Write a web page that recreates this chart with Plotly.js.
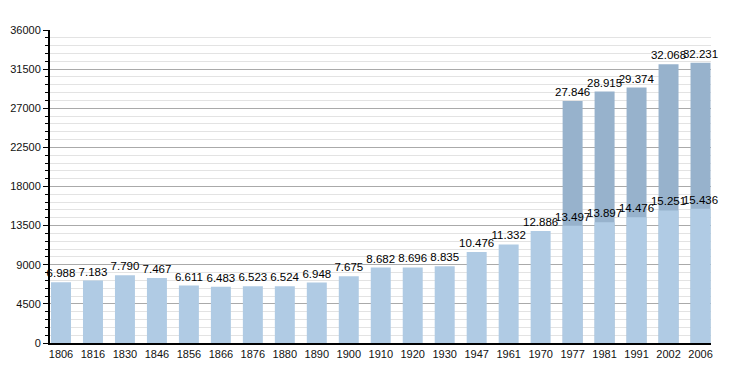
<!DOCTYPE html>
<html>
<head>
<meta charset="utf-8">
<script src="https://cdn.plot.ly/plotly-3.0.1.min.js"></script>
<style>html,body{margin:0;padding:0;background:#fff;}#chart{width:740px;height:373px;}</style>
</head>
<body>
<div id="chart"></div>
<script>
const years = ["1806","1816","1830","1846","1856","1866","1876","1880","1890","1900","1910","1920","1930","1947","1961","1970","1977","1981","1991","2002","2006"];
const population = [6988,7183,7790,7467,6611,6483,6523,6524,6948,7675,8682,8696,8835,10476,11332,12886,13497,13897,14476,15251,15436];
const totalYears = ["1977","1981","1991","2002","2006"];
const totalPopulation = [27846,28915,29374,32068,32231];
const yTicks = [0,4500,9000,13500,18000,22500,27000,31500,36000];

const font = {family: "Liberation Sans, Arial, sans-serif", size: 11, color: "#111"};
const labelFont = {family: "Liberation Sans, Arial, sans-serif", size: 11.5, color: "#000"};
const traces = [
  {type: "bar", x: totalYears, y: totalPopulation, marker: {color: "#97b2cc"}, width: 0.625,
   texttemplate: "%{y:,d}", textposition: "outside", cliponaxis: false, constraintext: "none",
   textfont: labelFont, hoverinfo: "none"},
  {type: "bar", x: years, y: population, marker: {color: "#b0cbe4"}, width: 0.625,
   texttemplate: "%{y:,d}", textposition: "outside", cliponaxis: false, constraintext: "none",
   textfont: labelFont, hoverinfo: "none"}
];
const layout = {
  width: 740, height: 373,
  margin: {l: 50, r: 29, t: 30, b: 30, pad: 0},
  paper_bgcolor: "#fff", plot_bgcolor: "#fff",
  barmode: "overlay", showlegend: false, separators: ",.",
  font: font,
  xaxis: {type: "category", categoryorder: "array", categoryarray: years,
    range: [-0.344, 20.328], showgrid: false, showline: true, linecolor: "#000", linewidth: 2,
    ticks: "", tickfont: font, fixedrange: true},
  yaxis: {range: [0, 36000], tickvals: yTicks, tickformat: "d", showgrid: true, gridcolor: "#aaaaaa", gridwidth: 1,
    zeroline: false, showline: true, linecolor: "#000", linewidth: 2,
    ticks: "outside", ticklen: 5, tickwidth: 1, tickcolor: "#000", tickfont: font,
    minor: {dtick: 900, showgrid: true, gridcolor: "#e3e3e3", gridwidth: 1, ticks: "outside", ticklen: 3, tickcolor: "#000"},
    fixedrange: true}
};
Plotly.newPlot("chart", traces, layout, {staticPlot: true, displayModeBar: false});
</script>
</body>
</html>
